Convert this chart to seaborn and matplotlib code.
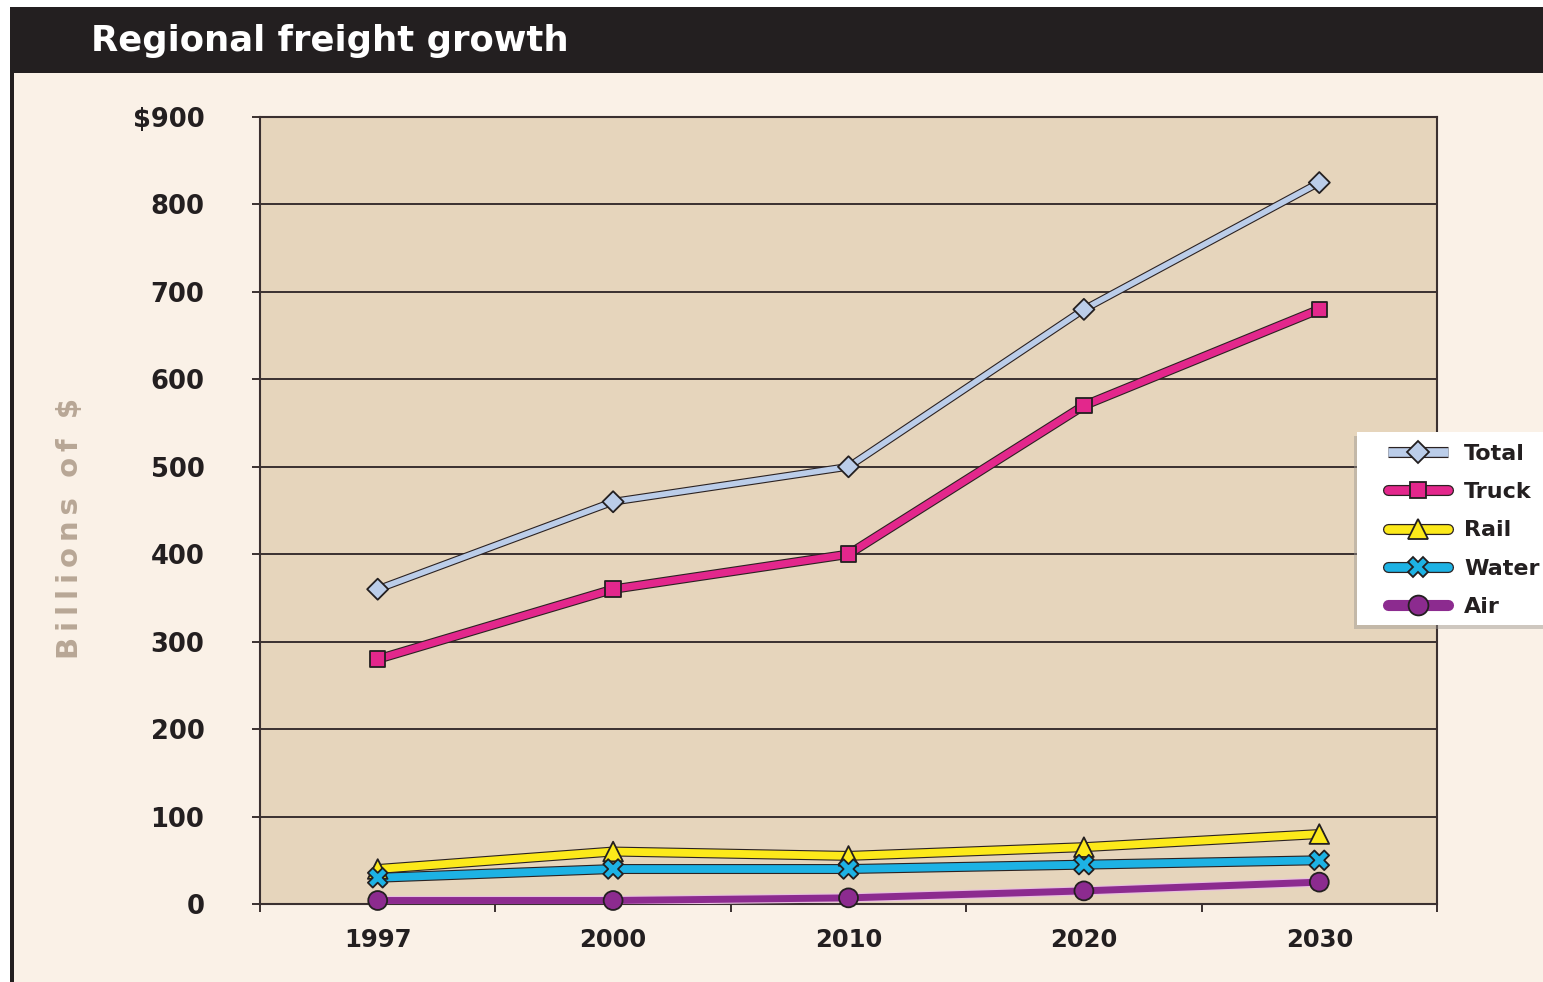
import matplotlib
matplotlib.use("Agg")
import matplotlib.pyplot as plt
import matplotlib.patheffects as pe
from matplotlib.patches import Rectangle
from matplotlib.lines import Line2D
from matplotlib.colors import to_hex
import numpy as np
import pandas as pd
import seaborn as sns

# ---- data (billions of dollars) ----
years = ["1997", "2000", "2010", "2020", "2030"]
total = [360, 460, 500, 680, 825]
truck = [280, 360, 400, 570, 680]
rail = [40, 60, 55, 65, 80]
water = [30, 40, 40, 45, 50]
air = [4, 4, 7, 15, 25]
modes = ["Total", "Truck", "Rail", "Water", "Air"]
y_ticks = [0, 100, 200, 300, 400, 500, 600, 700, 800, 900]
y_tick_labels = ["0", "100", "200", "300", "400", "500", "600", "700", "800", "$900"]

df = pd.DataFrame({
    "year": years * 5,
    "value": total + truck + rail + water + air,
    "mode": [m for m in modes for _ in years],
})

# ---- styling ----
colors = {"Total": "#BBCDE9", "Truck": "#E3278C", "Rail": "#FCE91A",
          "Water": "#1DB2E4", "Air": "#8C2B8F"}
line_w = {"Total": 4.0, "Truck": 5.2, "Rail": 5.6, "Water": 5.6, "Air": 5.0}
outline = {"Total": "#2B2222", "Truck": "#2B2222", "Rail": "#2B2222",
           "Water": "#2B2222", "Air": "#E8BEDF"}
markers = {"Total": "D", "Truck": "s", "Rail": "^", "Water": "X", "Air": "o"}
marker_area = {"Total": 115, "Truck": 125, "Rail": 200, "Water": 200, "Air": 185}
INK = "#231F20"
CREAM = "#FAF1E7"
PANEL = "#E6D5BC"

sns.set_style("ticks")
plt.rcParams["font.family"] = ["DejaVu Sans"]

W, H = 1543, 982
fig = plt.figure(figsize=(W / 100, H / 100), dpi=100)
fig.patch.set_facecolor("white")

# page background, title bar, and left rule
fig.patches.append(Rectangle((13 / W, 0), 1, 1 - 73 / H, transform=fig.transFigure,
                             facecolor=CREAM, edgecolor="none", zorder=-10))
fig.patches.append(Rectangle((10 / W, 1 - 73 / H), 1, 66 / H, transform=fig.transFigure,
                             facecolor=INK, edgecolor="none", zorder=-9))
fig.patches.append(Rectangle((10 / W, 0), 4 / W, 1 - 7 / H, transform=fig.transFigure,
                             facecolor=INK, edgecolor="none", zorder=-9))
fig.text(91 / W, 1 - 41 / H, "Regional freight growth", color="white",
         fontsize=25.5, fontweight="bold", ha="left", va="center")

ax = fig.add_axes([260 / W, 1 - 904 / H, (1437 - 260) / W, (904 - 117) / H])
ax.set_facecolor(PANEL)

sns.lineplot(data=df, x="year", y="value", hue="mode", hue_order=modes,
             palette=colors, size="mode", sizes=line_w, size_order=modes,
             legend=False, ax=ax, zorder=3)
color_to_mode = {to_hex(c): m for m, c in colors.items()}
for ln in ax.lines:
    m = color_to_mode.get(to_hex(ln.get_color()))
    if m is None:
        continue
    ln.set_solid_joinstyle("round")
    ln.set_solid_capstyle("round")
    ln.set_path_effects([pe.Stroke(linewidth=line_w[m] + 1.6, foreground=outline[m]),
                         pe.Normal()])

sns.scatterplot(data=df, x="year", y="value", hue="mode", hue_order=modes,
                palette=colors, style="mode", markers=markers, style_order=modes,
                size="mode", sizes=marker_area, size_order=modes,
                edgecolor=INK, linewidth=1.3, legend=False, ax=ax, zorder=4,
                clip_on=False)

ax.set_xlim(-0.5, 4.5)
ax.set_ylim(0, 900)
ax.set_xlabel("")
ax.set_ylabel("")

ax.set_yticks(y_ticks)
ax.set_yticklabels(y_tick_labels)
ax.yaxis.grid(True, color="#3A3030", linewidth=1.4, zorder=1)
ax.set_axisbelow(True)
ax.tick_params(axis="y", direction="out", length=6, width=1.4, color="#3A3030",
               pad=34, labelsize=18.5, labelcolor=INK)
for lab in ax.get_yticklabels():
    lab.set_fontweight("bold")

ax.set_xticks(np.arange(-0.5, 5, 1))
ax.set_xticklabels([])
ax.set_xticks(range(len(years)), minor=True)
ax.set_xticklabels(years, minor=True)
ax.tick_params(axis="x", which="major", direction="out", length=6, width=1.4,
               color="#3A3030")
ax.tick_params(axis="x", which="minor", length=0, pad=17, labelsize=17.5,
               labelcolor=INK)
for lab in ax.get_xticklabels(minor=True):
    lab.set_fontweight("bold")

for side in ["left", "right", "top", "bottom"]:
    ax.spines[side].set_visible(True)
    ax.spines[side].set_color("#3A3030")
    ax.spines[side].set_linewidth(1.5)

# vertical axis title
fig.text(70 / W, 1 - 528 / H, "B\u2009i\u2009l\u2009l\u2009i\u2009o\u2009n\u2009s  o\u2009f  $",
         rotation=90, color="#B8A796", fontsize=21, fontweight="bold",
         ha="center", va="center")

# legend panel with soft shadow
fig.patches.append(Rectangle(((1357 - 3) / W, 1 - (625 + 4) / H), 200 / W, 193 / H,
                             transform=fig.transFigure, facecolor="#9A9590",
                             alpha=0.45, edgecolor="none", zorder=5))
fig.patches.append(Rectangle((1357 / W, 1 - 625 / H), 200 / W, 193 / H,
                             transform=fig.transFigure, facecolor="white",
                             edgecolor="none", zorder=6))

handles = []
for m in modes:
    cap = "butt" if m == "Total" else "round"
    base = Line2D([], [], color=outline[m] if m != "Air" else colors[m],
                  linewidth=8.0, solid_capstyle=cap)
    fill = Line2D([], [], color=colors[m], linewidth=6.2, solid_capstyle=cap)
    mk = Line2D([], [], linestyle="none", marker=markers[m],
                markersize=np.sqrt(marker_area[m]) * 1.05,
                markerfacecolor=colors[m], markeredgecolor=INK, markeredgewidth=1.3)
    handles.append((base, fill, mk))

leg = fig.legend(handles, modes, loc="upper left",
                 bbox_to_anchor=(1388 / W, 1 - 444 / H), bbox_transform=fig.transFigure,
                 frameon=False, borderpad=0, borderaxespad=0,
                 handlelength=2.7, handletextpad=0.72, labelspacing=0.82,
                 prop={"weight": "bold", "size": 16})
leg.set_zorder(7)
for t in leg.get_texts():
    t.set_color(INK)

fig.savefig("out.png", dpi=100, facecolor=fig.get_facecolor())
